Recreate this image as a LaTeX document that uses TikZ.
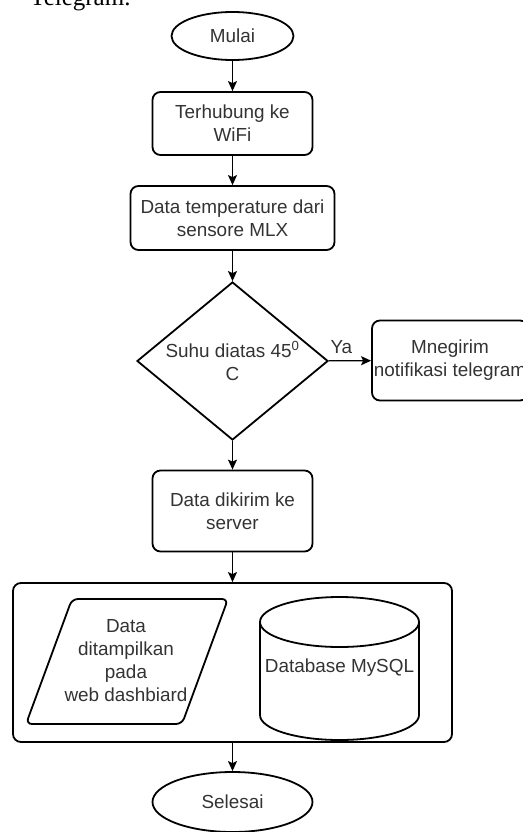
\documentclass[tikz,border=0pt]{standalone}
\usepackage{fontspec}
\setmainfont{Liberation Sans}
\newfontfamily\docserif{Liberation Serif}
\usetikzlibrary{arrows.meta,positioning,shapes.geometric}
\definecolor{ftext}{HTML}{333333}
\tikzset{
  terminal/.style = {draw, line width=1.8pt, ellipse, inner sep=0pt,
                     text=ftext, align=center},
  block/.style    = {draw, line width=1.8pt, rectangle, rounded corners=8pt,
                     inner sep=0pt, text=ftext, align=center},
  decision/.style = {draw, line width=1.8pt, diamond, aspect=1.2,
                     inner sep=0pt, text=ftext, align=center},
  sig/.style      = {-{Stealth[length=10pt, width=9pt, inset=2pt]},
                     line width=1.4pt},
}
\begin{document}
\begin{tikzpicture}[x=1pt, y=-1pt, font=\fontsize{18.9}{23}\selectfont]
\useasboundingbox (0,0) rectangle (522,832);
% ---- text of the page above ----
\node[font=\docserif\fontsize{25}{30}\selectfont, anchor=base west,
      inner sep=0pt] (caption) at (30,6) {Telegram.};
% ---- main column ----
\node[terminal, minimum width=122pt, minimum height=48pt] (mulai)
     at (232.5,36) {Mulai};
\node[block, minimum width=160pt, minimum height=63pt] (wifi)
     at (232.5,123.5) {Terhubung ke\\WiFi};
\node[block, minimum width=204pt, minimum height=64pt] (sensor)
     at (232.5,218) {Data temperature dari\\sensore MLX};
\node[decision, minimum width=191pt, minimum height=158pt] (suhu)
     at (232.5,361) {Suhu diatas 45\textsuperscript{0}\\C};
\node[block, minimum width=156pt, minimum height=80pt] (notif)
     at (450,360.5) {Mnegirim\\notifikasi telegram};
\node[block, minimum width=160pt, minimum height=81pt] (dikirim)
     at (232.5,511) {Data dikirim ke\\server};
% ---- output group ----
\node[block, minimum width=439pt, minimum height=159pt] (group)
     at (232.5,662.5) {};
\draw[line width=1.8pt, rounded corners=6pt] (72,599) -- (228,599)
     -- (182,724) -- (26,724) -- cycle;
\node[text=ftext, align=center] (web) at (126,661)
     {Data\\ditampilkan\\pada\\web dashbiard};
\draw[line width=1.8pt] (339.5,622) ellipse[x radius=79.5, y radius=25];
\draw[line width=1.8pt] (260,622) -- (260,715)
     arc[start angle=180, end angle=0, x radius=79.5, y radius=25]
     -- (419,622);
\node[text=ftext] (db) at (339.5,668) {Database MySQL};
\node[terminal, minimum width=160pt, minimum height=60pt] (selesai)
     at (232.5,802) {Selesai};
% ---- connectors ----
\draw[sig] (mulai) -- (wifi);
\draw[sig] (wifi) -- (sensor);
\draw[sig] (sensor) -- (suhu);
\draw[sig] (suhu) -- node[pos=0.3, above, inner sep=6pt, text=ftext] (ya)
     {Ya} (notif);
\draw[sig] (suhu) -- (dikirim);
\draw[sig] (dikirim) -- (group);
\draw[sig] (group) -- (selesai);
\end{tikzpicture}
\end{document}
